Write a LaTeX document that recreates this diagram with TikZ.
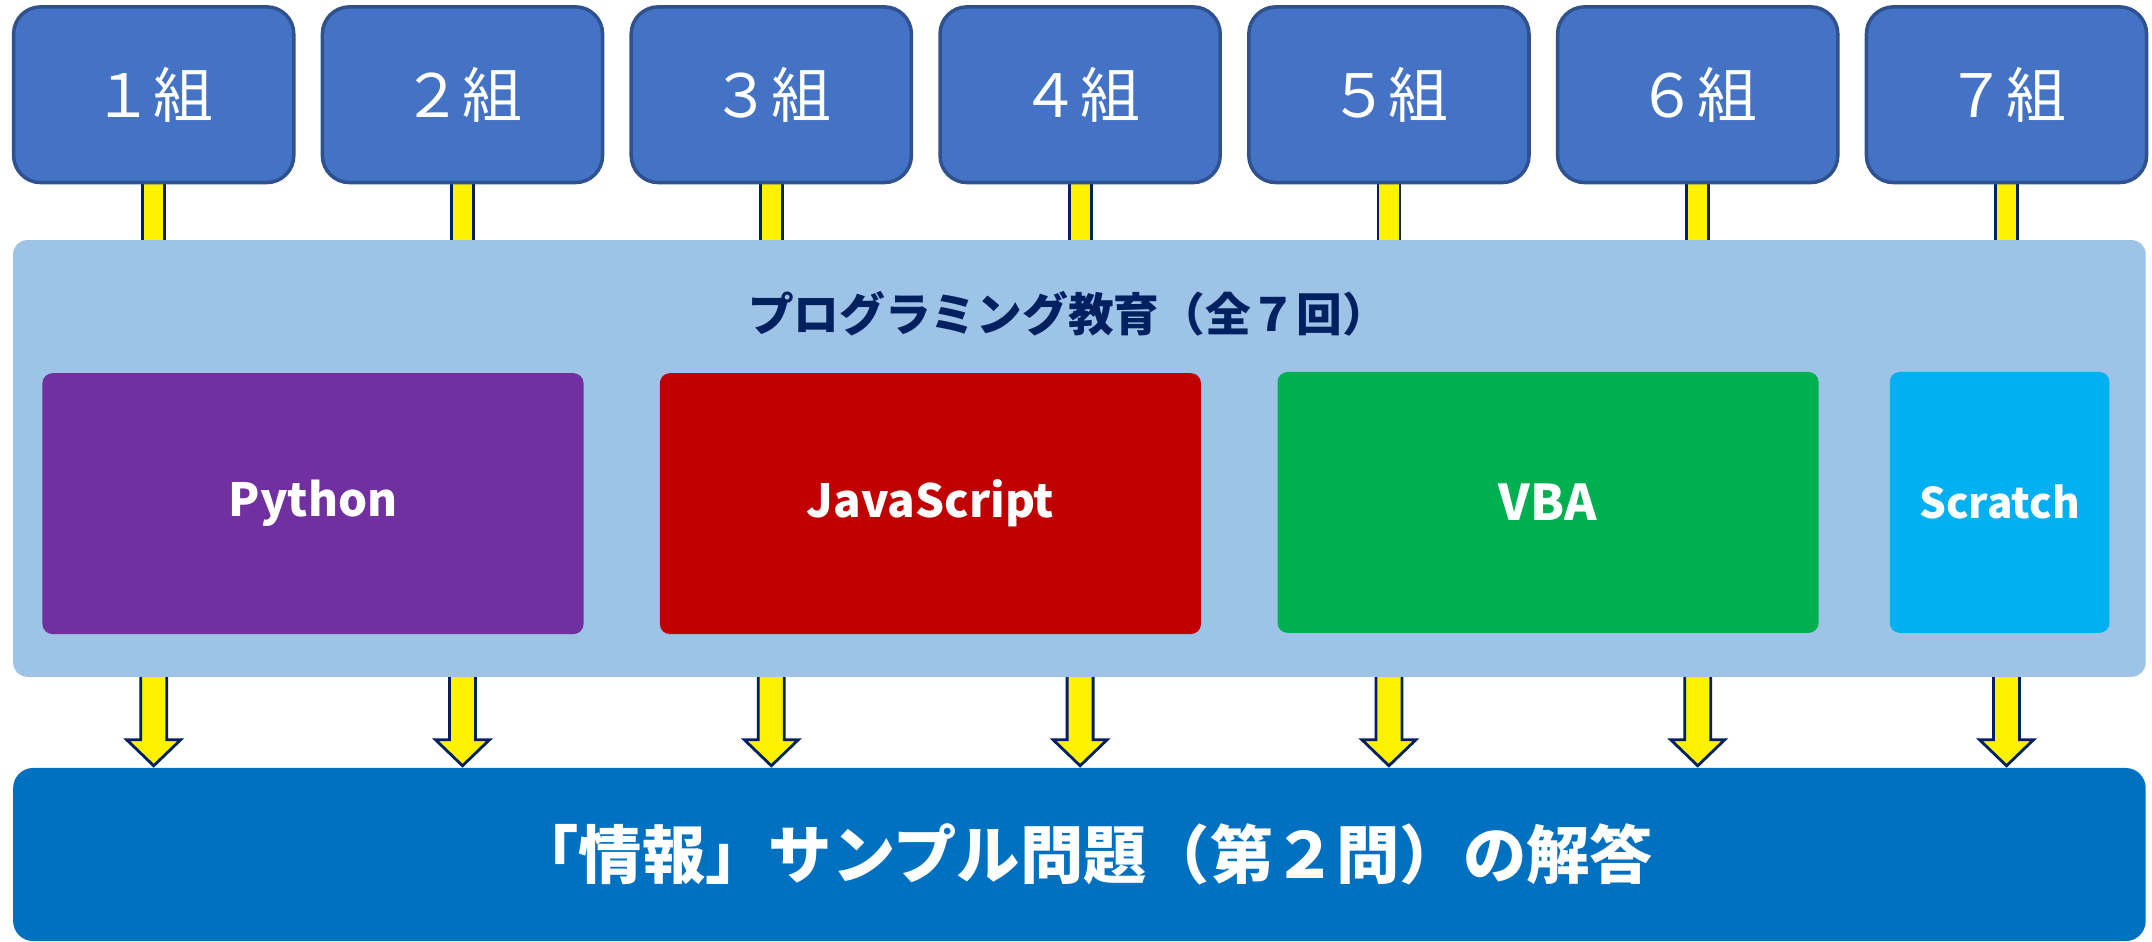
\documentclass[tikz,border=0pt]{standalone}
\usepackage{fontspec}
\newfontfamily\jpfont{Noto Sans CJK JP}
\usetikzlibrary{calc,backgrounds}

\definecolor{groupblue}{HTML}{4472C4}
\definecolor{groupedge}{HTML}{2F528F}
\definecolor{panelblue}{HTML}{9DC3E6}
\definecolor{navy}{HTML}{002060}
\definecolor{pypurple}{HTML}{7030A0}
\definecolor{jsred}{HTML}{C00000}
\definecolor{vbagreen}{HTML}{00B050}
\definecolor{scratchblue}{HTML}{00B0F0}
\definecolor{answerblue}{HTML}{0070C0}

\tikzset{
	groupbox/.style={draw=groupedge, line width=1pt, fill=groupblue, rounded corners=0.27cm,
		minimum width=2.8cm, minimum height=1.756cm, text=white,
		font=\jpfont\fontsize{17}{20}\selectfont},
	langbox/.style={fill=#1, rounded corners=0.1cm, minimum height=2.607cm, text=white,
		font=\jpfont\bfseries\fontsize{13}{16}\selectfont},
	connector/.style={draw=navy, line width=0.8pt, fill=yellow, line join=miter}
}

\begin{document}
\begin{tikzpicture}[x=0.01cm, y=-0.01cm]
			%%%%% START %%%%%
			\useasboundingbox (0, 0) rectangle (2152, 941);
			
			% classes
			\foreach \i/\n in {1/１, 2/２, 3/３, 4/４, 5/５, 6/６, 7/７}
				\node[groupbox] (g\i) at ({153.7 + 308.8*(\i-1)}, 94.7) {\n 組};
			
			\node[fill=panelblue, rounded corners=0.14cm, minimum width=21.313cm, minimum height=4.364cm] (panel) at (1079.4, 458.4) {};
			\node[text=navy, font=\jpfont\bfseries\fontsize{13}{16}\selectfont] (title) at (1068, 314) {プログラミング教育（全７回）};
			
			\node[langbox=pypurple, minimum width=5.408cm] (python) at (313, 503.6) {Python};
			\node[langbox=jsred, minimum width=5.408cm] (js) at (930.4, 503.6) {JavaScript};
			\node[langbox=vbagreen, minimum width=5.407cm, font=\jpfont\bfseries\fontsize{14}{17}\selectfont] (vba) at (1548, 502.4) {VBA};
			\node[langbox=scratchblue, minimum width=2.196cm, font=\jpfont\bfseries\fontsize{12}{15}\selectfont] (scratch) at (1999.6, 502.4) {Scratch};
			
			\node[fill=answerblue, rounded corners=0.2cm, minimum width=21.313cm, minimum height=1.73cm, text=white,
				font=\jpfont\bfseries\fontsize{18}{22}\selectfont] (answer) at (1079.4, 854.5) {\hspace{0.1cm}「情報」サンプル問題（第２問）の解答};
			
			% yellow links and arrows
			\begin{scope}[on background layer]
				\foreach \i in {1,...,7} {
					\draw[connector] ($(g\i.south)+(-11, -5)$) rectangle ($(g\i.south |- panel.north)+(11, 5)$);
					\coordinate (t\i) at ($(g\i.south |- panel.south)+(0, 88.3)$);
					\draw[connector] ($(t\i)+(-13, -93)$) -- ($(t\i)+(-13, -26)$) -- ($(t\i)+(-27, -26)$) -- (t\i)
						-- ($(t\i)+(27, -26)$) -- ($(t\i)+(13, -26)$) -- ($(t\i)+(13, -93)$) -- cycle;
				}
			\end{scope}
			%%%%% END %%%%%
\end{tikzpicture}
\end{document}
